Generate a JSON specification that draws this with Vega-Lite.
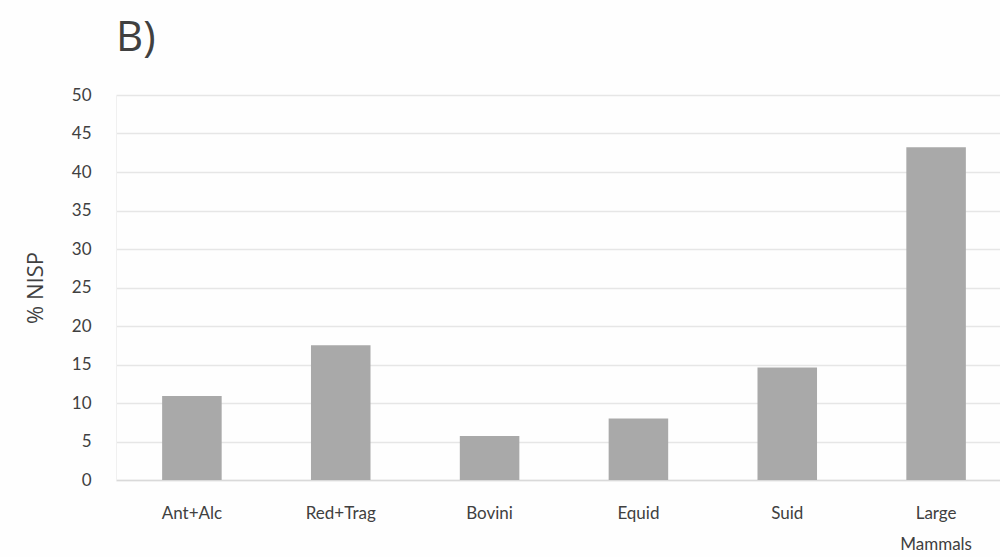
{
  "$schema": "https://vega.github.io/schema/vega-lite/v6.json",
  "width": 896,
  "height": 385,
  "autosize": {"type": "none"},
  "padding": {"left": 116, "top": 95, "right": 0, "bottom": 77},
  "background": "#fefefe",
  "title": {
    "text": "B)",
    "anchor": "start",
    "frame": "group",
    "fontSize": 42,
    "font": "Open Sans",
    "fontWeight": "normal",
    "color": "#404040",
    "offset": 26,
    "dx": 0
  },
  "data": {
    "values": [
      {"group": "Ant+Alc", "nisp": 10.9},
      {"group": "Red+Trag", "nisp": 17.5},
      {"group": "Bovini", "nisp": 5.7},
      {"group": "Equid", "nisp": 8.0},
      {"group": "Suid", "nisp": 14.6},
      {"group": "Large Mammals", "nisp": 43.2}
    ]
  },
  "mark": {"type": "bar", "color": "#a9a9a9"},
  "encoding": {
    "x": {
      "field": "group",
      "type": "nominal",
      "sort": null,
      "scale": {"paddingInner": 0.6, "paddingOuter": 0.31},
      "axis": {
        "title": null,
        "labelAngle": 0,
        "ticks": false,
        "labelPadding": 25,
        "labelFontSize": 17,
        "labelFont": "Lato",
        "labelColor": "#404040",
        "labelLineHeight": 31,
        "labelExpr": "datum.label == 'Large Mammals' ? ['Large', 'Mammals'] : datum.label",
        "domainColor": "#d9d9d9",
        "domainWidth": 1.5
      }
    },
    "y": {
      "field": "nisp",
      "type": "quantitative",
      "scale": {"domain": [0, 50], "nice": false},
      "axis": {
        "title": "% NISP",
        "titleFontSize": 22,
        "titleFont": "Open Sans",
        "titleFontWeight": "normal",
        "titleColor": "#404040",
        "titlePadding": 24,
        "values": [0, 5, 10, 15, 20, 25, 30, 35, 40, 45, 50],
        "ticks": false,
        "labelPadding": 25,
        "labelFontSize": 17,
        "labelFont": "Lato",
        "labelColor": "#404040",
        "domain": true,
        "domainColor": "#f0f0f0",
        "gridColor": "#e6e6e6",
        "gridWidth": 1.5
      }
    }
  },
  "config": {"view": {"stroke": null}}
}
